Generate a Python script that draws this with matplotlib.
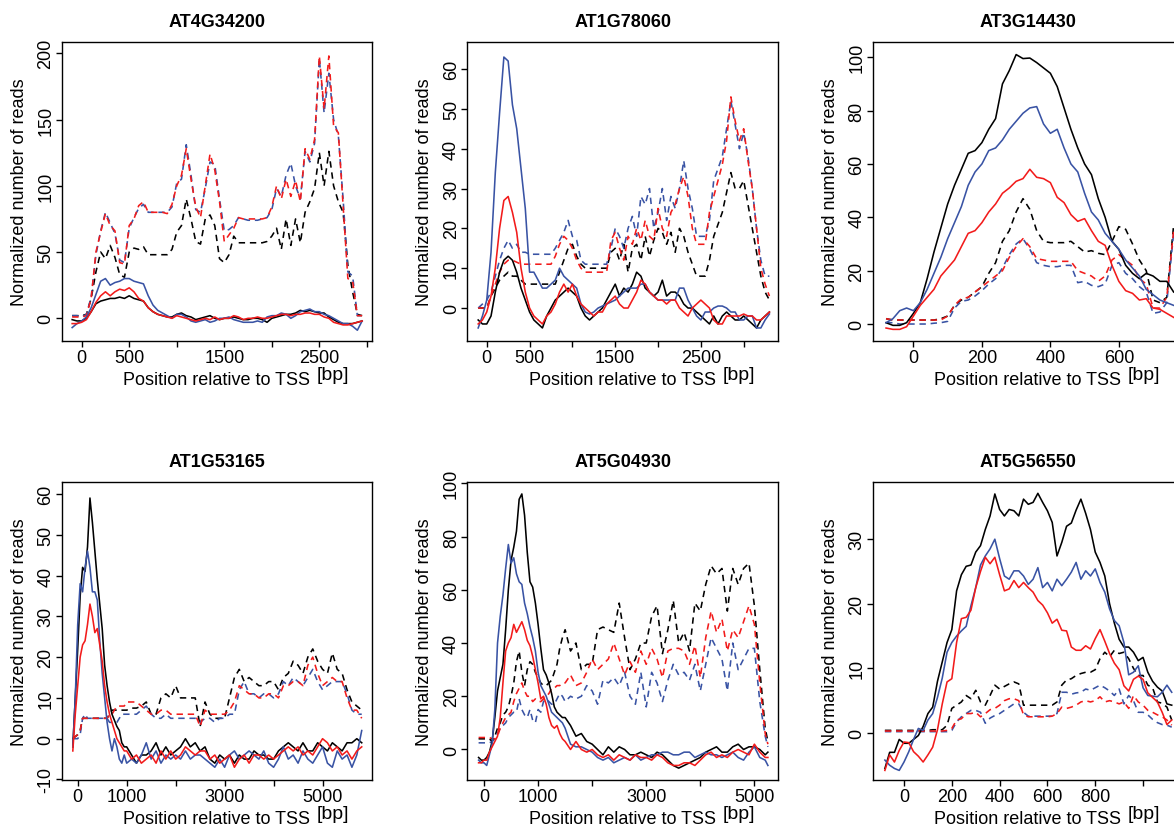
import numpy as np
import matplotlib
matplotlib.use("Agg")
import matplotlib.pyplot as plt

plt.rcParams['font.family'] = ['Liberation Sans', 'DejaVu Sans']

BLUE = '#3953a4'
RED = '#f21b1b'

# ---------------- AT4G34200
x1 = np.arange(-100, 2951, 50)
p1_black = [-1, -2, -2, 0, 5, 11, 13, 14, 15, 15,
            16, 15, 17, 15, 14, 13, 8, 5, 3, 2,
            1, 1, 3, 4, 2, 1, -1, 0, 1, 2,
            0, -1, 0, 0, 1, 0, -1, -1, 0, 0,
            -1, -3, 0, 1, 2, 3, 3, 4, 6, 5,
            6, 5, 4, 4, 1, -1, -3, -4, -4, -4,
            -3, -2]
p1_blue = [-7, -4, -2, 1, 8, 18, 28, 30, 25, 27,
           28, 30, 30, 28, 27, 26, 17, 10, 6, 4,
           2, 0, 3, 3, 1, -2, -3, -2, -1, -3,
           -2, 0, 0, 1, -1, -2, -3, -3, -3, -2,
           -3, 1, 2, 2, 4, 3, 0, 2, 5, 6,
           7, 5, 5, 3, 2, 0, -2, -4, -4, -6,
           -9, -2]
p1_red = [-4, -4, -3, -1, 5, 12, 17, 20, 17, 20,
          22, 21, 23, 20, 15, 13, 8, 5, 3, 2,
          1, 0, 2, 1, 0, -1, -2, -1, 0, -1,
          1, -1, 0, 0, 2, 1, -1, 0, 0, 1,
          0, 0, 1, 2, 3, 3, 2, 3, 3, 4,
          4, 3, 3, 1, 0, -3, -4, -5, -5, -4,
          -3, -2]
p1_black_d = [2, 2, 2, 3, 15, 35, 50, 45, 55, 46,
              33, 31, 50, 53, 52, 54, 48, 48, 48, 48,
              48, 52, 65, 70, 90, 75, 58, 56, 75, 78,
              70, 45, 42, 48, 62, 57, 57, 57, 57, 57,
              57, 58, 62, 68, 52, 75, 55, 75, 57, 80,
              88, 98, 125, 100, 126, 100, 88, 80, 40, 20,
              3, 2]
p1_blue_d = [2, 2, 1, 3, 16, 48, 66, 80, 72, 64,
             44, 42, 68, 76, 83, 86, 80, 80, 80, 80,
             80, 84, 102, 105, 131, 108, 82, 80, 98, 118,
             116, 90, 66, 67, 70, 76, 75, 74, 74, 74,
             75, 76, 82, 98, 92, 108, 117, 100, 90, 126,
             118, 132, 196, 155, 185, 150, 138, 90, 35, 32,
             2, 2]
p1_red_d = [1, 1, 1, 2, 15, 50, 65, 79, 70, 66,
            42, 41, 70, 75, 85, 88, 80, 80, 80, 80,
            79, 86, 100, 108, 128, 105, 84, 76, 100, 124,
            112, 88, 58, 63, 68, 76, 75, 75, 75, 75,
            75, 76, 84, 100, 90, 105, 92, 104, 88, 128,
            120, 135, 198, 158, 198, 145, 140, 85, 30, 28,
            2, 2]

# ---------------- AT1G78060
x2 = np.arange(-100, 3301, 50)
p2_black = [-3, -4, -4, -2, 4, 9, 12, 13, 12, 9,
            5, 2, -1, -3, -4, -5, -2, 0, 2, 3,
            4, 5, 4, 3, 0, -2, -3, -2, -1, 0,
            2, 4, 6, 3, 5, 4, 6, 9, 8, 5,
            4, 3, 4, 7, 3, 4, 4, 3, 1, 0,
            0, -1, -2, -3, -4, -2, -4, -2, -1, -2,
            -3, -3, -2, -3, -4, -5, -3, -2, -1]
p2_blue = [-5, -2, 2, 14, 34, 49, 63, 62, 51, 45,
           35, 25, 9, 9, 7, 5, 5, 6, 7, 10,
           8, 7, 6, 5, 1, -1, -1.5, -1, 0, 0.5,
           1, 1.5, 2, 3, 4, 5, 5, 5, 6, 6,
           4, 3, 2, 2, 2, 2, 2, 5, 5, 2,
           0, -2, -3, -1, -1, 0, 0.5, 0.5, 0, -1,
           -1, -3, -3, -2, -2, -5, -5, -3, -1.5]
p2_red = [-4, -3, -1, 3, 10, 20, 27, 28, 24, 19,
          10, 4, 0, -2, -3, -4, -2, -1, 1, 4,
          6, 4, 6, 3, 1, 0, -1, -2, -1, -1,
          1, 2, 3, 1, 0, 0, 2, 4, 7, 6,
          4, 3, 2, 2, 1, 2, 2, 0, -1, -2,
          0, 1, 2, 1, 0, -3, -4, -4, -2, -2,
          -2, -2, -1.5, -2, -2, -3, -3, -2, -1]
p2_black_d = [0, 0, 0, 3, 5, 7, 8, 9, 8, 8,
              7, 6, 6, 6, 6, 6, 6, 6, 6, 9,
              12, 15, 16, 13, 11, 10, 10, 10, 10, 10,
              10, 14, 15, 12, 16, 9, 15, 16, 12, 18,
              13, 17, 20, 19, 16, 19, 14, 20, 18, 14,
              11, 8, 8, 8, 12, 18, 21, 24, 29, 34,
              30, 30, 32, 26, 20, 14, 8, 4, 2]
p2_blue_d = [0, 1, 2, 4, 8, 12, 15, 17, 15, 16,
             14, 14, 13.5, 13.5, 13.5, 13.5, 13.5, 13.5, 15, 17,
             19, 22, 18, 17, 12, 11, 11, 11, 11, 11,
             11, 15, 20, 18, 15, 20, 23, 18, 28, 26,
             30, 20, 24, 30, 22, 28, 25, 30, 37, 30,
             25, 18, 18, 18, 22, 32, 35, 38, 45, 52,
             46, 40, 44, 38, 30, 20, 12, 8, 8]
p2_red_d = [0, 0, 0, 3, 6, 9, 11, 12, 12, 11.5,
            11, 11, 11, 11, 11, 11, 11, 11, 13, 16,
            18, 17, 15, 12, 10, 9, 9, 9, 9, 9,
            9, 17, 19, 15, 12, 18, 16, 20, 17, 22,
            18, 17, 25, 20, 18, 24, 26, 30, 33, 28,
            20, 16, 16, 16, 24, 28, 32, 36, 42, 53,
            47, 42, 45, 37, 30, 20, 10, 6, 3]

# ---------------- AT3G14430
x3 = np.arange(-80, 761, 20)
p3_black = [0.5, -0.5, -0.5, 0.5, 4, 8, 17, 27, 36, 45,
            52, 58, 64, 65, 68, 73, 77, 90, 95, 101,
            99.5, 99.7, 98, 96, 94, 89, 81, 73, 66, 60,
            56, 47, 40, 31, 28, 22, 19, 17, 19, 18,
            16, 16, 12]
p3_blue = [0.5, 2, 5, 6, 5, 8, 13, 19, 25, 32,
           38, 44, 52, 57, 60, 65, 66, 69, 73, 76,
           79, 81, 81.5, 75, 71.5, 73, 66, 60, 57, 49,
           42, 39, 34, 31, 28, 24, 21, 18, 13, 11,
           9, 8, 7]
p3_red = [-1.5, -2, -2, -1, 3, 7, 10, 13, 18, 21,
          24, 29, 34, 35, 38, 42, 45, 49, 51, 53.5,
          54.5, 58, 55, 54.5, 53, 47.5, 45.5, 41, 38.5, 39.5,
          35, 31, 29.5, 22, 16, 12.5, 11.5, 9, 9.5, 6,
          5.5, 4, 2.5]
p3_black_d = [2, 1.5, 1.5, 1.5, 1.5, 1.5, 1.5, 1.5, 2, 3,
              7, 9, 10, 12, 14, 19, 23, 31, 35, 42,
              47, 43, 35, 31, 30.5, 30.5, 30.5, 31, 29, 27,
              27.5, 26.5, 26, 31, 36.5, 35.5, 30, 24, 20, 9,
              8, 10, 37]
p3_blue_d = [0.5, 0.5, 0, 0, 0, 0, 0, 0.3, 0.5, 1,
             6, 8.5, 9, 10.5, 12.5, 15, 17, 21, 26, 30,
             32, 28, 23, 22, 21.5, 21.5, 22, 22, 15.5, 16,
             14.5, 14, 15, 22, 23, 19, 17, 14, 12, 4,
             4.5, 8, 34]
p3_red_d = [2, 1.5, 1.5, 1.5, 1.5, 1.5, 1.5, 1.5, 1.5, 3,
            7, 9.5, 10, 12, 14, 16, 18, 20, 25, 29,
            32, 29, 24.5, 24, 23.5, 23.5, 23.5, 23.5, 20, 19,
            18, 16, 18, 24, 26, 24, 22, 17, 15, 6,
            6, 10, 35]

# ---------------- AT1G53165
x4 = np.r_[np.arange(-100, 1000, 50), np.arange(1000, 5801, 100)]
p4_black = [-2, 10, 22, 35, 42, 41, 47, 59, 53, 46,
            39, 33, 27, 18, 13, 9, 6, 4.5, 3, 2,
            -1, -2, -2, -4, -6, -4, -4, -3, -1, -4,
            -2, -4, -3, -2, 0, -2, -1, -3, -2, -5,
            -6, -4, -5, -4, -6, -4, -5, -5, -3, -4,
            -4, -5, -5, -3, -2, -1, -2, -3, -1, -3,
            -3, -1, -2, -3, -1, -2, -3, -1, -1, 0, -1]
p4_blue = [-2, 10, 28, 38, 36, 42, 46, 42, 36, 36,
           34, 24, 16, 10, 4, 0, -3, 0, -2, -5,
           -6, -4, -6, -5, -6, -4, -1, -5, -3, -6,
           -4, -5, -4, -5, -3, -5, -4, -4, -5, -6,
           -7, -5, -7, -4, -3, -5, -4, -3, -4, -5,
           -3, -6, -7, -5, -2, -5, -4, -6, -3, -5,
           -6, -4, -2, -6, -7, -3, -5, -4, -7, -4, 2]
p4_red = [-3, 6, 13, 20, 23, 24, 28, 33, 30, 26,
          27, 23, 19, 13, 9, 6, 4, 2, 0, -1,
          -2, -3, -3, -5, -4, -6, -5, -4, -6, -3,
          -5, -3, -5, -4, -2, -3, -4, -3, -3, -5,
          -4, -6, -5, -4, -7, -5, -4, -6, -4, -4,
          -5, -4, -5, -4, -3, -2, -3, -2, -4, -3,
          -4, -2, 0, -1, -3, -2, -4, -3, -5, -3, -2]
p4_black_d = [0, 0.5, 1, 2, 5, 5, 5, 5, 5, 5,
              5, 5, 5, 5, 5, 6, 7, 7, 7, 7,
              7, 7, 7, 7.5, 7.5, 8, 9, 6, 6, 10,
              11, 10, 13, 10, 10, 10, 10, 3, 9, 6,
              5, 5, 5, 10, 15, 17, 14, 15, 14, 13,
              13, 14, 14, 12, 15, 16, 19, 18, 16, 20,
              22, 19, 17, 16, 21, 17, 16, 12, 9, 8, 7]
p4_blue_d = [0, 0, 0, 1, 5, 6, 5, 5, 5, 5,
             5, 5, 5, 5, 5, 4, 4, 4, 4, 5,
             6, 6, 6, 6, 6, 7, 8, 6, 5, 5,
             6, 5, 5, 5, 5, 5, 5, 4, 5, 5,
             4, 5, 5, 6, 6, 12, 14, 11, 11, 10,
             11, 11, 10, 11, 14, 13, 15, 14, 13, 15,
             17, 14, 12, 13, 14, 14, 14, 11, 7, 6, 6]
p4_red_d = [0, 0.5, 1, 2, 5, 5, 5, 5, 5, 5,
            5, 5, 5, 5, 5, 6, 6, 7, 8, 8,
            8, 8, 9, 9, 9, 8, 7, 6, 6, 7,
            7, 6, 6, 6, 6, 6, 6, 3, 7, 6,
            6, 6, 6, 7, 9, 13, 12, 11, 11, 10,
            10, 11, 11, 10, 13, 13, 14, 14, 13, 18,
            20, 16, 13, 14, 15, 14, 14, 10, 7, 7, 5]

# ---------------- AT5G04930
x5 = np.r_[np.arange(-100, 1550, 50), np.arange(1600, 5201, 100), [5250]]
p5_black = [-3, -4, -4, -3, -1, 3, 12, 22, 27, 32,
            45, 60, 71, 76, 82, 94, 96, 88, 74, 63,
            61, 55, 47, 38, 30, 28, 25, 21, 16, 14,
            13, 12, 12, 9, 5, 6, 3, 2, 0, -2,
            1, -1, 1, 0, -2, -2, -1, -2, -3, -1,
            -2, -4, -6, -7, -6, -5, -4, -3, -1, 0,
            1, -1, -1, 1, 2, 0, 1, 1, 0, -2,
            -1]
p5_blue = [-4, -5, -5, -6, -2, 2, 15, 40, 50, 58,
           68, 77, 70, 72, 66, 63, 62, 55, 51, 46,
           42, 37, 29, 24, 22, 20, 17, 14, 13, 12,
           11, 10, 8, 2, 1, 1, 0, -1, -3, -4,
           -3, -5, -4, -3, -4, -2, -4, -3, -2, -2,
           -1, -1, -2, -2, -1, -1, -3, -2, -1, -2,
           -2, -3, -2, -1, -3, -4, -1, 1, -3, -4,
           -6]
p5_red = [-5, -5, -4, -4, -1, 1, 3, 5, 12, 25,
          37, 40, 42, 47, 44, 46, 48, 45, 41, 39,
          35, 30, 25, 19, 20, 17, 12, 9, 8, 9,
          6, 4, 3, 0, 3, 0, -1, 0, -2, -3,
          -2, -4, -2, -3, -4, -2, -3, -3, -4, -2,
          -3, -5, -6, -6, -5, -5, -6, -4, -2, -1,
          -3, -2, -3, -1, 0, -1, -2, 2, -1, -3,
          -3]
p5_black_d = [4, 4, 4, 4, 4, 3, 5, 8, 10, 13,
              14, 16, 20, 25, 33, 37, 29, 24, 30, 33,
              32, 29, 27, 25, 24, 24, 25, 26, 29, 32,
              38, 42, 45, 37, 40, 30, 32, 32, 45, 46,
              45, 44, 55, 42, 30, 34, 40, 40, 50, 54,
              36, 45, 56, 40, 44, 37, 55, 52, 62, 69,
              66, 68, 52, 68, 62, 68, 70, 54, 30, 8,
              3]
p5_blue_d = [2.5, 2.5, 2.5, 2.5, 2.5, 3, 4, 6, 8, 9,
             10, 12, 13, 14, 14, 19, 15, 13, 12, 15,
             11, 10, 15, 14, 18, 19, 18, 17, 17, 19,
             21, 20, 18, 20, 19, 20, 24, 22, 17, 26,
             25, 27, 24, 29, 20, 17, 29, 16, 29, 25,
             18, 26, 32, 28, 29, 26, 32, 22, 32, 42,
             38, 34, 22, 40, 30, 34, 38, 38, 18, 5,
             1]
p5_red_d = [4.5, 4.5, 4.5, 4.5, 4.5, 4, 4, 5, 8, 10,
            12, 13, 14, 18, 21, 23, 25, 22, 20, 20,
            18, 19, 18, 18, 19, 20, 21, 23, 23, 24,
            24, 25, 25, 28, 24, 25, 29, 34, 30, 32,
            34, 40, 34, 28, 33, 29, 37, 32, 38, 34,
            27, 37, 38, 38, 37, 32, 39, 27, 42, 52,
            44, 49, 37, 45, 42, 48, 54, 47, 25, 6,
            2]

# ---------------- AT5G56550
x6 = np.arange(-80, 1121, 20)
p6_black = [-5.5, -3, -3, -1, -1.6, -1.6, -1, -0.4, 1, 3,
            4, 8, 11, 14, 16, 22, 24.5, 25.8, 26, 28,
            29, 31.5, 33.6, 37, 34.6, 33.6, 34.6, 34.4, 33.6, 36.2,
            35.4, 35.7, 37.1, 35.7, 34.4, 32.6, 27.4, 29.5, 32, 32.5,
            34.5, 36.2, 34, 31.5, 28, 26.4, 24.3, 20, 17, 14.5,
            13.3, 13.3, 12.5, 11.2, 11.7, 9.4, 8, 7.1, 6.5, 4.5,
            4.3]
p6_blue = [-4.2, -5, -5.5, -5.8, -4.5, -2.9, -1, 0.7, 0.4, 2,
           3, 5.5, 8.5, 12.5, 14, 15, 15.8, 16.5, 19.7, 22.5,
           26, 27.4, 28.5, 30, 27, 24.3, 23.8, 25.1, 25.1, 24.3,
           23, 23.8, 25.6, 22.5, 23.3, 22, 23.8, 22.8, 23.8, 24.9,
           26.4, 23.8, 25.1, 24.3, 25.4, 23.3, 21.8, 19.2, 17.4, 16.6,
           14, 9, 9.4, 10.4, 7, 5.8, 5.7, 5.6, 6.3, 7.4,
           6.3]
p6_red = [-5.8, -3.4, -4.5, -2.7, -1.4, -1.5, -2.9, -3.6, -4.5, -3.4,
          -2.2, 0.5, 4.5, 7.9, 8.4, 14, 17.7, 17.9, 19, 22.5,
          25, 27.2, 26.2, 27.2, 24.5, 22, 22.3, 23.6, 22.5, 23.3,
          22.5, 21.8, 20.5, 19.8, 18.6, 17, 17.6, 15.9, 15.8, 13.3,
          12.8, 12.8, 13.5, 13, 14.6, 16, 14.2, 12.3, 10.8, 9.8,
          7.3, 6.5, 8.3, 8.8, 8.3, 6.2, 5.5, 4.8, 3.2, 1.3,
          2]
p6_black_d = [0.4, 0.4, 0.4, 0.4, 0.4, 0.4, 0.4, 0.4, 0.4, 0.4,
              0.5, 0.5, 0.5, 1.2, 3.8, 4.3, 4.8, 5.8, 5.3, 6.6,
              4.8, 4.3, 5.8, 7.4, 6.8, 7.2, 7.6, 7.9, 7.6, 4.3,
              4.3, 4.3, 4.3, 4.3, 4.3, 4.3, 4.8, 7.4, 8.2, 8.4,
              8.9, 9.2, 9.4, 9.4, 9.8, 11.5, 12.5, 11.8, 12.8, 12.3,
              12.5, 11.5, 10, 8.9, 8.9, 7.4, 7, 4.8, 4.6, 4,
              2]
p6_blue_d = [0.2, 0.2, 0.2, 0.2, 0.2, 0.2, 0.2, 0.2, 0.2, 0.2,
             0.2, 0.2, 0.2, 0.2, 0.4, 1.7, 2.5, 3, 3.5, 3.5,
             3.2, 1.5, 2.3, 2.7, 3, 3.5, 4, 4.5, 4.5, 3.2,
             2.6, 2.6, 2.6, 2.6, 2.6, 2.6, 3, 6.3, 6.3, 6,
             6.2, 6.3, 6.8, 6.6, 7, 7.4, 7, 6.5, 5.8, 6.8,
             4.5, 5.8, 5, 3.2, 3.2, 2.8, 2.1, 1.6, 1.3, 1.2,
             0.9]
p6_red_d = [0.3, 0.3, 0.3, 0.3, 0.3, 0.3, 0.3, 0.3, 0.3, 0.3,
            0.3, 0.3, 0.3, 0.4, 0.7, 2, 2.2, 3, 3, 3.2,
            2.5, 3, 3.6, 3.8, 4.3, 5, 5.3, 5.3, 5, 2.8,
            2.5, 2.5, 2.5, 2.5, 2.5, 2.6, 3, 4, 3.8, 4,
            4.3, 4.8, 5, 4.8, 5, 5.6, 4.8, 5, 4.8, 4.5,
            4.8, 3.8, 5.8, 4.8, 4.3, 3.5, 3.2, 2.8, 2.5, 2,
            1.2]

titles = ['AT4G34200', 'AT1G78060', 'AT3G14430',
          'AT1G53165', 'AT5G04930', 'AT5G56550']

panels = [
    (x1, [p1_black, p1_blue, p1_red], [p1_black_d, p1_blue_d, p1_red_d],
     (-210, 3056), (-16.9, 208.3),
     [0, 500, 1000, 1500, 2000, 2500, 3000], ['0', '500', '', '1500', '', '2500', ''],
     [0, 50, 100, 150, 200]),
    (x2, [p2_black, p2_blue, p2_red], [p2_black_d, p2_blue_d, p2_red_d],
     (-227, 3398), (-8.2, 66.7),
     [0, 500, 1000, 1500, 2000, 2500, 3000], ['0', '500', '', '1500', '', '2500', ''],
     [0, 10, 20, 30, 40, 50, 60]),
    (x3, [p3_black, p3_blue, p3_red], [p3_black_d, p3_blue_d, p3_red_d],
     (-119, 788), (-6.25, 105.6),
     [0, 200, 400, 600], ['0', '200', '400', '600'],
     [0, 20, 40, 60, 80, 100]),
    (x4, [p4_black, p4_blue, p4_red], [p4_black_d, p4_blue_d, p4_red_d],
     (-327, 6014), (-10.15, 63.0),
     [0, 1000, 2000, 3000, 4000, 5000], ['0', '1000', '', '3000', '', '5000'],
     [-10, 0, 10, 20, 30, 40, 50, 60]),
    (x5, [p5_black, p5_blue, p5_red], [p5_black_d, p5_blue_d, p5_red_d],
     (-309, 5433), (-11.5, 100.6),
     [0, 1000, 2000, 3000, 4000, 5000], ['0', '1000', '', '3000', '', '5000'],
     [0, 20, 40, 60, 80, 100]),
    (x6, [p6_black, p6_blue, p6_red], [p6_black_d, p6_blue_d, p6_red_d],
     (-131, 1168), (-7.3, 38.9),
     [0, 200, 400, 600, 800, 1000], ['0', '200', '400', '600', '800', ''],
     [0, 10, 20, 30]),
]

W, H = 1174, 828
fig = plt.figure(figsize=(W / 100, H / 100), dpi=100)

lefts = [61.7, 467.3, 872.7]
tops = [43.3, 482.7]
aw, ah = 310.5, 298.4
colors = ['black', BLUE, RED]

for i, (x, solid, dashed, xl, yl, xt, xtl, yt) in enumerate(panels):
    r, c = divmod(i, 3)
    ax = fig.add_axes([lefts[c] / W, 1 - (tops[r] + ah) / H, aw / W, ah / H])
    for y, col in zip(dashed, colors):
        ax.plot(x, y, color=col, lw=1.15, dashes=(4, 3))
    for y, col in zip(solid, colors):
        ax.plot(x, y, color=col, lw=1.15)
    ax.set_xlim(*xl)
    ax.set_ylim(*yl)
    ax.set_xticks(xt, xtl)
    ax.set_yticks(yt, [str(v) for v in yt], rotation=90, va='center')
    ax.tick_params(direction='out', length=4.5, width=1, labelsize=13, pad=1.5)
    ax.tick_params(axis='y', pad=0.8)
    for s in ax.spines.values():
        s.set_linewidth(1)
    ax.set_title(titles[i], fontsize=13, fontweight='bold', pad=11.5)
    ax.text(-0.1375, 0.5, 'Normalized number of reads', rotation=90, fontsize=13,
            ha='center', va='center', transform=ax.transAxes)
    ax.text(0.5, -0.145, 'Position relative to TSS', fontsize=13,
            ha='center', va='baseline', transform=ax.transAxes)
    ax.text(0.821, -0.128, '[bp]', fontsize=14,
            ha='left', va='baseline', transform=ax.transAxes)

fig.savefig('out.png', dpi=100)
